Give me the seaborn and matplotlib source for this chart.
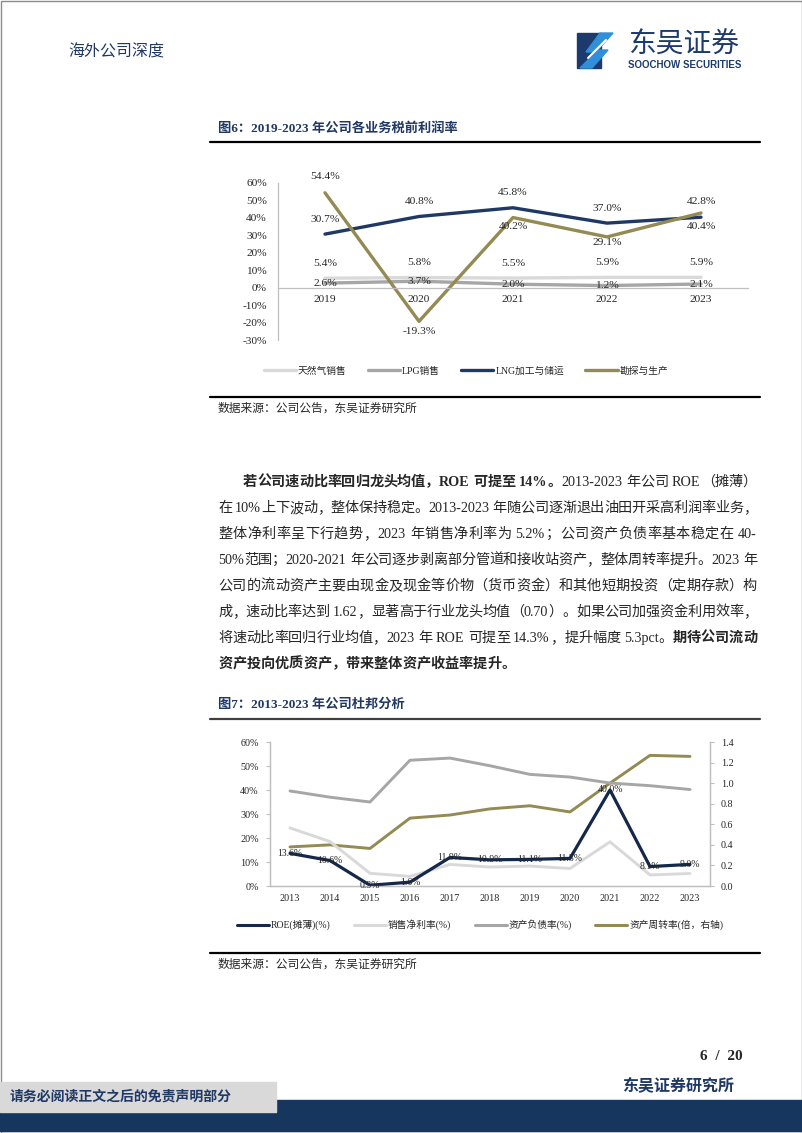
import numpy as np
import matplotlib
matplotlib.use('Agg')
import matplotlib.pyplot as plt
import seaborn as sns
from matplotlib.patches import Rectangle, Polygon
from matplotlib.lines import Line2D
from matplotlib.ticker import FuncFormatter

# ---- 图6 data: pre-tax margin by business (%) ----
years_6 = ['2019', '2020', '2021', '2022', '2023']
gas_sales = [5.4, 5.8, 5.5, 5.9, 5.9]
lpg_sales = [2.6, 3.7, 2.0, 1.2, 2.1]
lng_storage = [30.7, 40.8, 45.8, 37.0, 40.4]
exploration = [54.4, -19.3, 40.2, 29.1, 42.8]
names_6 = ['天然气销售', 'LPG销售', 'LNG加工与储运', '勘探与生产']

# ---- 图7 data: DuPont analysis ----
years_7 = ['2013', '2014', '2015', '2016', '2017', '2018', '2019', '2020', '2021', '2022', '2023']
roe = [13.6, 10.6, 0.3, 1.6, 11.9, 10.9, 11.1, 11.5, 40.0, 8.1, 9.0]
net_margin = [24.2, 18.5, 5.3, 4.0, 9.0, 7.9, 8.3, 7.3, 18.4, 4.6, 5.2]
debt_ratio = [39.6, 37.0, 35.0, 52.4, 53.3, 50.1, 46.5, 45.4, 42.9, 41.8, 40.2]
turnover = [0.38, 0.40, 0.365, 0.66, 0.69, 0.75, 0.78, 0.72, 1.00, 1.27, 1.26]
names_7 = ['ROE(摊薄)(%)', '销售净利率(%)', '资产负债率(%)', '资产周转率(倍，右轴)']

# body text lines: (segment, bold)
para_lines = [
    [('若公司速动比率回归龙头均值，ROE 可提至 14%。', True), ('2013-2023 年公司 ROE（摊薄）', False)],
    [('在 10%上下波动，整体保持稳定。2013-2023 年随公司逐渐退出油田开采高利润率业务，', False)],
    [('整体净利率呈下行趋势，2023 年销售净利率为 5.2%；公司资产负债率基本稳定在 40-', False)],
    [('50%范围；2020-2021 年公司逐步剥离部分管道和接收站资产，整体周转率提升。2023 年', False)],
    [('公司的流动资产主要由现金及现金等价物（货币资金）和其他短期投资（定期存款）构', False)],
    [('成，速动比率达到 1.62，显著高于行业龙头均值（0.70）。如果公司加强资金利用效率，', False)],
    [('将速动比率回归行业均值，2023 年 ROE 可提至 14.3%，提升幅度 5.3pct。', False), ('期待公司流动', True)],
    [('资产投向优质资产，带来整体资产收益率提升。', True)],
]

NAVY = '#1f3864'
OLIVE = '#948a54'
LIGHT = '#d9d9d9'
GRAY = '#a6a6a6'
AXC = '#bfbfbf'

sns.set_style('white')
FONTS = ['Liberation Serif', 'Noto Sans CJK SC', 'DejaVu Sans']
plt.rcParams['font.family'] = FONTS
plt.rcParams['axes.unicode_minus'] = False

W, H = 802, 1133
fig = plt.figure(figsize=(W / 100, H / 100), dpi=100)
page = fig.add_axes([0, 0, 1, 1])
page.set_xlim(0, W)
page.set_ylim(H, 0)
page.axis('off')
renderer = fig.canvas.get_renderer()


def px_axes(l, t, r, b):
    return fig.add_axes([l / W, 1 - b / H, (r - l) / W, (b - t) / H])


pct = FuncFormatter(lambda v, p: f'{v:.0f}%')

# ---- page frame, header, logo ----
page.add_patch(Rectangle((0.5, 0.5), W - 1, H - 1, fill=False, ec='#8c8c8c', lw=1))
page.text(68, 52, '海外公司深度', fontsize=11.5, color=NAVY, va='center', ha='left')
page.add_patch(Rectangle((577, 33), 24, 35, color='#1d3a6c'))
page.add_patch(Polygon([(600, 33), (613, 33), (596, 52), (586, 52)], color='#2f8fd8'))
page.add_patch(Polygon([(598, 50), (608, 50), (592, 68), (580, 68)], color='#2f8fd8'))
page.plot([588, 606], [58, 40], color='white', lw=1.5)
page.text(628, 46, '东吴证券', fontsize=20, color='#1d3a6c', va='center', ha='left')
page.text(628, 65, 'SOOCHOW SECURITIES', fontsize=7, color='#1d3a6c', fontweight='bold',
          va='center', ha='left', family=['Liberation Sans'])

# ---- figure 6 ----
page.text(218, 128, '图6：2019-2023 年公司各业务税前利润率', fontsize=9.5, fontweight='bold',
          color=NAVY, va='center')
page.plot([210, 760], [142, 142], color='black', lw=1.6)

ax1 = px_axes(278, 183, 748, 340)
x6 = np.arange(len(years_6))
series_6 = [gas_sales, lpg_sales, lng_storage, exploration]
colors_6 = [LIGHT, GRAY, NAVY, OLIVE]
label_dy_6 = [[15] * 5, [0] * 5, [15, 15, 15, 15, -9], [16, -10, -9, -6, 12]]
for vals, col in zip(series_6, colors_6):
    sns.lineplot(x=x6, y=vals, ax=ax1, color=col, lw=2.4)
for vals, dys in zip(series_6, label_dy_6):
    for xi, v, dy in zip(x6, vals, dys):
        ax1.annotate(f'{v:.1f}%', (xi, v), xytext=(0, dy), textcoords='offset pixels',
                     ha='center', va='center', fontsize=8.2, color='#262626')
ax1.set_xlim(-0.5, 4.5)
ax1.set_ylim(-30, 60)
ax1.set_yticks(range(-30, 61, 10))
ax1.yaxis.set_major_formatter(pct)
ax1.set_xticks(x6, years_6)
ax1.set_xticks(np.arange(-0.5, 5, 1), minor=True)
ax1.spines['bottom'].set_position(('data', 0))
for s in ['top', 'right']:
    ax1.spines[s].set_visible(False)
for s in ['left', 'bottom']:
    ax1.spines[s].set_color(AXC)
    ax1.spines[s].set_linewidth(0.9)
ax1.tick_params(axis='x', which='major', length=0, pad=5, labelsize=8.2)
ax1.tick_params(axis='x', which='minor', length=3, color=AXC, direction='out')
ax1.tick_params(axis='y', length=3, color=AXC, labelsize=8.2, pad=5)
ax1.set_xlabel('')
ax1.set_ylabel('')
ax1.patch.set_alpha(0)

h6 = [Line2D([], [], color=c, lw=2.4) for c in colors_6]
fig.legend(h6, names_6, loc='center', bbox_to_anchor=(466 / W, 1 - 371 / H), ncol=4,
           frameon=False, fontsize=7, handlelength=3.3, handletextpad=0.2, columnspacing=2.2)

page.plot([210, 760], [397, 397], color='black', lw=1.6)
page.text(218, 409, '数据来源：公司公告，东吴证券研究所', fontsize=8.5, va='center')

# ---- body paragraph, justified between 218 and 757 px ----
BODY = 10.2
EM = BODY * 100 / 72
LEFT_PUNCT = '，。；：、）'
RIGHT_PUNCT = '（'


def split_tokens(segs):
    toks = []
    for txt, bold in segs:
        run = ''
        for ch in txt:
            if ord(ch) < 128 and ch != ' ':
                run += ch
                continue
            if run:
                toks.append((run, bold))
                run = ''
            toks.append((ch, bold))
        if run:
            toks.append((run, bold))
    return toks


line_x = [243] + [218] * 7
for i, segs in enumerate(para_lines):
    base = 481 + i * 26 + 5
    toks = split_tokens(segs)
    items = []
    for t, bold in toks:
        wt = 'bold' if bold else 'normal'
        if t == ' ':
            items.append((None, EM * 0.25, 'left'))
        elif ord(t[0]) >= 128 and len(t) == 1:
            ha = 'left' if t in LEFT_PUNCT else ('right' if t in RIGHT_PUNCT else 'center')
            art = page.text(0, base, t, fontsize=BODY, fontweight=wt, va='baseline', ha=ha)
            items.append((art, EM, ha))
        else:
            art = page.text(0, base, t, fontsize=BODY, fontweight=wt, va='baseline', ha='left')
            items.append((art, art.get_window_extent(renderer).width + 0.5, 'left'))
    total = sum(w for _, w, _ in items)
    last = i == len(para_lines) - 1
    gap = 0 if last else (757 - line_x[i] - total) / (len(items) - 1)
    x = line_x[i]
    for art, w, ha in items:
        if art is not None:
            off = {'left': 0, 'center': w / 2, 'right': w}[ha]
            art.set_x(x + off)
        x += w + gap

# ---- figure 7 ----
page.text(218, 705, '图7：2013-2023 年公司杜邦分析', fontsize=9.5, fontweight='bold',
          color=NAVY, va='center')
page.plot([210, 760], [719, 719], color='#404040', lw=1.6)

ax2 = px_axes(270, 742, 710, 886)
ax2r = ax2.twinx()
x7 = np.arange(len(years_7))
sns.lineplot(x=x7, y=turnover, ax=ax2r, color=OLIVE, lw=2.1)
sns.lineplot(x=x7, y=net_margin, ax=ax2, color=LIGHT, lw=2.1)
sns.lineplot(x=x7, y=debt_ratio, ax=ax2, color=GRAY, lw=2.1)
sns.lineplot(x=x7, y=roe, ax=ax2, color='#14284b', lw=2.3)
for xi, v in zip(x7, roe):
    ax2.annotate(f'{v:.1f}%', (xi, v), ha='center', va='center', fontsize=7, color='#262626')
ax2.set_zorder(ax2r.get_zorder() + 1)
ax2.patch.set_visible(False)
ax2.set_xlim(-0.5, 10.5)
ax2.set_ylim(0, 60)
ax2.set_yticks(range(0, 61, 10))
ax2.yaxis.set_major_formatter(pct)
ax2r.set_ylim(0, 1.4)
ax2r.set_yticks(np.arange(0, 1.41, 0.2))
ax2r.yaxis.set_major_formatter(FuncFormatter(lambda v, p: f'{v:.1f}'))
ax2.set_xticks(x7, years_7)
ax2.set_xticks(np.arange(-0.5, 11, 1), minor=True)
for a in (ax2, ax2r):
    a.spines['top'].set_visible(False)
    for s in ['left', 'bottom', 'right']:
        a.spines[s].set_color(AXC)
        a.spines[s].set_linewidth(0.9)
    a.set_xlabel('')
    a.set_ylabel('')
ax2.tick_params(axis='x', which='major', length=0, pad=6, labelsize=7.3)
ax2.tick_params(axis='x', which='minor', length=3, color=AXC, direction='in')
ax2.tick_params(axis='y', length=3, color=AXC, labelsize=7.3, pad=5)
ax2r.tick_params(axis='y', length=3, color=AXC, labelsize=7.3, pad=5)

h7 = [Line2D([], [], color=c, lw=2.2) for c in ['#14284b', LIGHT, GRAY, OLIVE]]
fig.legend(h7, names_7, loc='center', bbox_to_anchor=(480 / W, 1 - 925 / H), ncol=4,
           frameon=False, fontsize=7, handlelength=3.3, handletextpad=0.2, columnspacing=2.4)

page.plot([210, 760], [953, 953], color='black', lw=1.6)
page.text(218, 965, '数据来源：公司公告，东吴证券研究所', fontsize=8.5, va='center')

# ---- footer ----
page.text(743, 1057, '6  /  20', fontsize=11, fontweight='bold', ha='right', va='center')
page.text(622, 1086, '东吴证券研究所', fontsize=11.5, color=NAVY, fontweight='bold', va='center')
page.add_patch(Rectangle((0, 1100), W, 31, color='#17365d'))
page.add_patch(Rectangle((0, 1082), 276, 30, color='#d9d9d9'))
page.text(10, 1097, '请务必阅读正文之后的免责声明部分', fontsize=10, color=NAVY,
          fontweight='bold', va='center')

fig.savefig('out.png', dpi=100)
